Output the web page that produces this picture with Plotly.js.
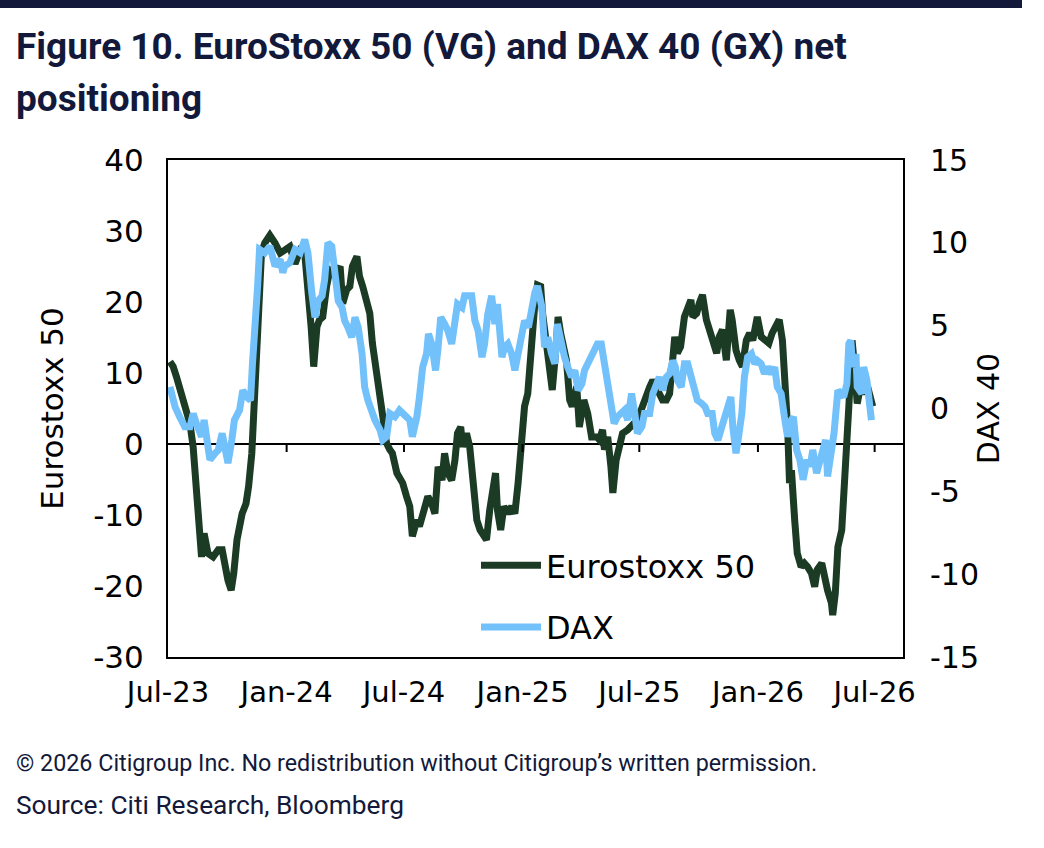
<!DOCTYPE html>
<html>
<head>
<meta charset="utf-8">
<script src="https://cdn.plot.ly/plotly-3.0.1.min.js"></script>
<style>
  html, body { margin: 0; padding: 0; background: #ffffff; }
  #chart { width: 1044px; height: 848px; }
</style>
</head>
<body>
<div id="chart"></div>
<script>
// EuroStoxx 50 (VG) net positioning, left axis
const esDates = [
  '2023-07-04','2023-07-09','2023-07-14','2023-07-19','2023-07-24','2023-07-30','2023-08-04','2023-08-09','2023-08-14','2023-08-19',
  '2023-08-22','2023-08-26','2023-09-01','2023-09-09','2023-09-17','2023-09-23','2023-09-28','2023-10-02','2023-10-07','2023-10-11',
  '2023-10-16','2023-10-24','2023-10-30','2023-11-03','2023-11-08','2023-11-11','2023-11-16','2023-11-19','2023-11-23','2023-11-28',
  '2023-12-06','2023-12-14','2023-12-22','2023-12-29','2024-01-06','2024-01-14','2024-01-22','2024-01-29','2024-02-03','2024-02-08',
  '2024-02-12','2024-02-17','2024-02-21','2024-02-26','2024-03-03','2024-03-08','2024-03-16','2024-03-24','2024-03-28','2024-04-03',
  '2024-04-08','2024-04-12','2024-04-19','2024-04-23','2024-04-28','2024-05-04','2024-05-09','2024-05-13','2024-05-20','2024-05-24',
  '2024-05-29','2024-06-04','2024-06-09','2024-06-13','2024-06-20','2024-06-24','2024-06-29','2024-07-05','2024-07-10','2024-07-14',
  '2024-07-21','2024-07-25','2024-07-30','2024-08-07','2024-08-13','2024-08-18','2024-08-23','2024-08-29','2024-09-02','2024-09-07',
  '2024-09-13','2024-09-18','2024-09-22','2024-09-27','2024-09-30','2024-10-06','2024-10-11','2024-10-16','2024-10-22','2024-10-27',
  '2024-10-31','2024-11-06','2024-11-11','2024-11-15','2024-11-20','2024-11-23','2024-11-28','2024-12-03','2024-12-09','2024-12-15',
  '2024-12-20','2024-12-25','2024-12-31','2025-01-04','2025-01-09','2025-01-15','2025-01-20','2025-01-24','2025-01-29','2025-02-01',
  '2025-02-07','2025-02-12','2025-02-16','2025-02-22','2025-02-25','2025-03-01','2025-03-04','2025-03-10','2025-03-15','2025-03-19',
  '2025-03-26','2025-03-30','2025-04-06','2025-04-12','2025-04-18','2025-04-26','2025-04-30','2025-05-05','2025-05-08','2025-05-13',
  '2025-05-18','2025-05-21','2025-05-26','2025-05-30','2025-06-05','2025-06-13','2025-06-21','2025-06-28','2025-07-06','2025-07-12',
  '2025-07-17','2025-07-22','2025-07-28','2025-08-01','2025-08-06','2025-08-12','2025-08-17','2025-08-22','2025-08-25','2025-08-29',
  '2025-09-03','2025-09-09','2025-09-14','2025-09-19','2025-09-22','2025-09-28','2025-10-02','2025-10-07','2025-10-13','2025-10-18',
  '2025-10-23','2025-10-29','2025-11-02','2025-11-07','2025-11-13','2025-11-19','2025-11-22','2025-11-28','2025-12-03','2025-12-08',
  '2025-12-14','2025-12-19','2025-12-24','2025-12-31','2026-01-06','2026-01-14','2026-01-18','2026-01-23','2026-01-29','2026-02-03',
  '2026-02-08','2026-02-12','2026-02-16','2026-02-19','2026-02-22','2026-02-27','2026-03-03','2026-03-09','2026-03-14','2026-03-19',
  '2026-03-25','2026-03-30','2026-04-03','2026-04-10','2026-04-14','2026-04-19','2026-04-25','2026-04-27','2026-05-01','2026-05-05',
  '2026-05-11','2026-05-14','2026-05-19','2026-05-22','2026-05-25','2026-05-27','2026-05-30','2026-06-01','2026-06-04','2026-06-09',
  '2026-06-15','2026-06-20','2026-06-25','2026-06-28'
];
const esValues = [
  11.6, 10.9, 9.5, 8.1, 6.2, 4.3, 2.9, -0.4, -6, -10.7,
  -15.9, -12.6, -15.4, -15.9, -14.9, -14.9, -17.7, -19.2, -20.6, -18.2,
  -13.5, -9.8, -8.4, -6, -1.3, 4.3, 11.8, 19.3, 26.9, 28.3,
  29.4, 28.3, 26.9, 27.3, 27.8, 25.4, 27.3, 26.9, 22.2, 16.5,
  10.9, 16.5, 17.5, 17.9, 22.2, 24.5, 24, 25, 19.8, 21.7,
  22.2, 25, 26.4, 23.6, 22.2, 20.3, 18.4, 14.2, 10, 6.7,
  4.3, 0.1, -0.8, -1.3, -4.1, -4.6, -5.5, -7.4, -8.8, -13,
  -10.7, -11.6, -9.8, -7.4, -8.4, -9.8, -3.2, -5.1, -1.3, -4.1,
  -5.1, -2.3, 1.5, 2.4, -0.4, 1.5, -0.4, -6, -10.7, -12.1,
  -12.6, -13.5, -9.3, -6, -4.1, -9.3, -12.1, -8.8, -9.8, -8.8,
  -9.8, -5.5, 1, 5.3, 7.1, 15.1, 19.8, 22.4, 22.2, 18.4,
  14.2, 11.4, 7.6, 13.7, 17.9, 15.6, 14.2, 11.8, 6.2, 5.3,
  8.1, 2.4, 6.2, 4.3, 1, 1, 0.6, 2, -0.8, 1,
  -3.2, -6.9, -2.3, -0.4, 1.5, 2, 2.9, 3.4, 5.3, 7.1,
  8, 9, 8.1, 7.1, 6.2, 6.2, 7.1, 11.8, 15.1, 12.8,
  13.7, 17.9, 18.9, 20.3, 17.9, 18.4, 19.8, 21, 17.5, 16.1,
  15.1, 12.8, 15.1, 16.1, 11.8, 18.9, 17.5, 13.2, 11.8, 10.9,
  14.6, 15.6, 14.6, 17.9, 15.1, 14.6, 14.2, 15.6, 16.5, 17.5,
  14.6, 9, 2.4, -5.5, -3.7, -10.7, -15.4, -17.3, -16.8, -17.3,
  -18.2, -20.1, -17.7, -16.8, -19.2, -20.6, -22.4, -24.1, -21, -14.5,
  -12.1, -6, -0.4, 5.3, 10.4, 14.6, 11.8, 7.1, 5.7, 8.1,
  7.1, 8.1, 6.7, 5.3
];

// DAX 40 (GX) net positioning, right axis
const daxDates = [
  '2023-07-04','2023-07-12','2023-07-19','2023-07-27','2023-08-04','2023-08-09','2023-08-14','2023-08-22','2023-08-26','2023-09-04',
  '2023-09-12','2023-09-17','2023-09-23','2023-09-28','2023-10-02','2023-10-08','2023-10-12','2023-10-20','2023-10-25','2023-10-31',
  '2023-11-06','2023-11-09','2023-11-14','2023-11-17','2023-11-20','2023-11-28','2023-12-06','2023-12-14','2023-12-22','2023-12-26',
  '2023-12-29','2024-01-06','2024-01-14','2024-01-22','2024-01-29','2024-02-03','2024-02-09','2024-02-14','2024-02-19','2024-02-25',
  '2024-02-29','2024-03-05','2024-03-11','2024-03-16','2024-03-21','2024-03-27','2024-03-31','2024-04-05','2024-04-11','2024-04-16',
  '2024-04-21','2024-04-27','2024-05-01','2024-05-06','2024-05-12','2024-05-17','2024-05-25','2024-05-29','2024-06-04','2024-06-09',
  '2024-06-17','2024-06-24','2024-07-02','2024-07-10','2024-07-14','2024-07-21','2024-07-25','2024-07-30','2024-08-05','2024-08-08',
  '2024-08-13','2024-08-19','2024-08-23','2024-08-27','2024-09-02','2024-09-07','2024-09-13','2024-09-18','2024-09-22','2024-09-29',
  '2024-10-03','2024-10-08','2024-10-14','2024-10-19','2024-10-24','2024-10-30','2024-11-03','2024-11-08','2024-11-14','2024-11-19',
  '2024-11-23','2024-11-30','2024-12-04','2024-12-09','2024-12-15','2024-12-20','2024-12-25','2024-12-31','2025-01-04','2025-01-10',
  '2025-01-15','2025-01-20','2025-01-24','2025-01-31','2025-02-04','2025-02-09','2025-02-15','2025-02-20','2025-02-24','2025-03-03',
  '2025-03-07','2025-03-12','2025-03-18','2025-03-23','2025-03-28','2025-04-03','2025-04-07','2025-04-12','2025-04-18','2025-04-23',
  '2025-04-27','2025-05-03','2025-05-08','2025-05-13','2025-05-19','2025-05-23','2025-05-28','2025-06-03','2025-06-08','2025-06-13',
  '2025-06-19','2025-06-24','2025-06-28','2025-07-05','2025-07-09','2025-07-17','2025-07-22','2025-07-28','2025-08-01','2025-08-06',
  '2025-08-12','2025-08-17','2025-08-22','2025-08-26','2025-08-29','2025-09-04','2025-09-09','2025-09-14','2025-09-20','2025-09-25',
  '2025-09-29','2025-10-06','2025-10-11','2025-10-15','2025-10-22','2025-10-26','2025-10-31','2025-11-06','2025-11-10','2025-11-15',
  '2025-11-20','2025-11-23','2025-11-28','2025-12-02','2025-12-07','2025-12-11','2025-12-16','2025-12-22','2025-12-27','2025-12-31',
  '2026-01-06','2026-01-11','2026-01-16','2026-01-22','2026-01-27','2026-01-31','2026-02-06','2026-02-11','2026-02-16','2026-02-22',
  '2026-02-25','2026-03-02','2026-03-07','2026-03-12','2026-03-18','2026-03-23','2026-03-27','2026-04-02','2026-04-06','2026-04-11',
  '2026-04-16','2026-04-19','2026-04-24','2026-04-29','2026-05-05','2026-05-09','2026-05-14','2026-05-19','2026-05-22','2026-05-25',
  '2026-05-28','2026-06-02','2026-06-04','2026-06-11','2026-06-14','2026-06-19','2026-06-22','2026-06-26'
];
const daxValues = [
  1.3, 0.1, -0.5, -1.1, -1.1, -0.3, -0.9, -1.7, -0.7, -3.1,
  -2.7, -2.5, -1.5, -2.5, -3.3, -1.9, -0.7, -0.1, 1.1, 0.7,
  0.5, 2.7, 4.9, 7.4, 9.6, 9.4, 9.8, 8.6, 9, 8.2,
  8.6, 8.8, 9.6, 9.4, 10.2, 9.4, 7, 5.5, 6.5, 6.8,
  7.8, 10, 9.8, 8, 6.5, 6.1, 5.3, 4.9, 4.3, 5.5,
  4.9, 3.3, 1.3, 0.5, -0.3, -0.7, -1.3, -1.9, -1.7, -0.3,
  -0.5, -0.1, -0.4, -0.7, -1.7, -0.5, 0.7, 2.5, 3.3, 4.5,
  3.9, 2.3, 3.7, 5.5, 5.1, 4.7, 3.9, 5.3, 6.3, 6.1,
  6.8, 6.8, 6.8, 5.3, 4.7, 3.1, 3.9, 5.7, 6.8, 5.1,
  6.3, 3.1, 3.7, 3.9, 3.3, 2.3, 3.3, 4.9, 5.3, 4.9,
  6.3, 7, 7.4, 6.1, 3.7, 4.3, 3.3, 2.7, 5.1, 3.7,
  3.1, 2.5, 1.9, 2.3, 1.1, 1.5, 2.3, 2.7, 3.1, 3.5,
  3.9, 3.9, 2.7, 2.1, 0.1, -0.9, -0.5, -0.3, -0.1, -0.7,
  0.9, -0.3, -1.5, -1.1, -0.3, -0.3, 0.9, 1.5, 1.9, 1.1,
  1.9, 2.1, 2.9, 2.5, 1.7, 1.3, 2.7, 2.7, 1.7, 1.1,
  0.5, 0.3, 0.1, -0.3, -0.3, -1.5, -1.9, -1.1, -0.5, 0.1,
  0.7, -1.1, -2.7, -1.7, -0.3, 1.9, 3.1, 3.3, 2.7, 2.9,
  2.7, 2.1, 2.5, 2.1, 2.5, 1.3, 0.9, -0.5, -1.7, -0.7,
  -0.5, -2.5, -3.1, -4.3, -3.1, -3.5, -2.5, -3.9, -3.3, -2.7,
  -1.9, -4.1, -2.7, -1.5, 1.1, 0.9, 0.7, 1.5, 3.9, 4.1,
  2.5, 3.3, 1.3, 0.9, 2.5, 1.7, 0.5, -0.7
];

// Axis ticks and labels
const tickDates = ['2023-07-01','2024-01-01','2024-07-01','2025-01-01','2025-07-01','2026-01-01','2026-07-01'];
const tickLabels = ['Jul-23','Jan-24','Jul-24','Jan-25','Jul-25','Jan-26','Jul-26'];
const leftTicks = [40, 30, 20, 10, 0, -10, -20, -30];
const rightTicks = [15, 10, 5, 0, -5, -10, -15];

const titleLines = ['Figure 10. EuroStoxx 50 (VG) and DAX 40 (GX) net', 'positioning'];
const footnotes = ['\u00A9 2026 Citigroup Inc. No redistribution without Citigroup\u2019s written permission.',
                   'Source: Citi Research, Bloomberg'];

const NAVY = '#13193a';
const ES_COLOR = '#1b3b25';
const DAX_COLOR = '#72c1fa';
const AXIS_FONT = 'DejaVu Sans, Verdana, sans-serif';
const NOTE_FONT = 'Roboto, Liberation Sans, sans-serif';

// plot area in pixels
const W = 1044, H = 848;
const M = { l: 168, r: 141, t: 160, b: 191 };
const PW = W - M.l - M.r, PH = H - M.t - M.b;
const px = x => (x - M.l) / PW;          // page x -> paper x
const py = y => (H - M.b - y) / PH;      // page y -> paper y

const traces = [
  {
    x: esDates, y: esValues, name: 'Eurostoxx 50', legendgroup: 'es',
    type: 'scatter', mode: 'lines', yaxis: 'y',
    line: { color: ES_COLOR, width: 7, shape: 'linear' }
  },
  {
    x: daxDates, y: daxValues, name: 'DAX', legendgroup: 'dax',
    type: 'scatter', mode: 'lines', yaxis: 'y2',
    line: { color: DAX_COLOR, width: 7, shape: 'linear' }
  }
];

// small tick marks hanging below the zero line at each date label
const zeroTicks = tickDates.slice(1).map(d => ({
  type: 'line', xref: 'x', yref: 'y', ysizemode: 'pixel', yanchor: 0,
  x0: d, x1: d, y0: 0, y1: -8,
  line: { color: '#000', width: 2 }
}));

const layout = {
  width: W, height: H,
  paper_bgcolor: '#ffffff', plot_bgcolor: '#ffffff',
  margin: M,
  font: { family: AXIS_FONT, size: 28, color: '#000' },
  showlegend: true,
  legend: {
    x: px(476), xanchor: 'left', y: py(538), yanchor: 'top',
    bgcolor: 'rgba(0,0,0,0)', borderwidth: 0,
    font: { family: AXIS_FONT, size: 32, color: '#000' },
    itemwidth: 60,
    traceorder: 'grouped', tracegroupgap: 17
  },
  xaxis: {
    type: 'date', range: ['2023-07-01', '2026-08-14'],
    tickmode: 'array', tickvals: tickDates, ticktext: tickLabels,
    ticks: '', showgrid: false, zeroline: false,
    showline: true, mirror: true, linecolor: '#000', linewidth: 2,
    tickfont: { family: AXIS_FONT, size: 29 }, ticklabelstandoff: 8
  },
  yaxis: {
    range: [-30, 40], tickmode: 'array', tickvals: leftTicks, ticktext: leftTicks.map(String),
    ticks: '', showgrid: false,
    zeroline: true, zerolinecolor: '#000', zerolinewidth: 2,
    showline: true, linecolor: '#000', linewidth: 2,
    tickfont: { family: AXIS_FONT, size: 31 }, ticklabelstandoff: 16,
    title: { text: 'Eurostoxx 50', font: { family: AXIS_FONT, size: 31 }, standoff: 20 }
  },
  yaxis2: {
    overlaying: 'y', side: 'right',
    range: [-15, 15], tickmode: 'array', tickvals: rightTicks, ticktext: rightTicks.map(String),
    ticks: '', showgrid: false, zeroline: false,
    showline: true, linecolor: '#000', linewidth: 2,
    tickfont: { family: AXIS_FONT, size: 30 }, ticklabelstandoff: 19,
    title: { text: 'DAX 40', font: { family: AXIS_FONT, size: 30 }, standoff: 0 }
  },
  shapes: [
    // header rule
    { type: 'rect', xref: 'paper', yref: 'paper', x0: px(0), x1: px(1022), y0: py(8), y1: py(0),
      fillcolor: NAVY, line: { width: 0 }, layer: 'above' }
  ].concat(zeroTicks),
  annotations: [
    { text: titleLines[0], xref: 'paper', yref: 'paper', x: px(14), y: py(47), xanchor: 'left', yanchor: 'middle',
      showarrow: false, font: { family: NOTE_FONT, size: 37, color: NAVY, weight: 700 } },
    { text: titleLines[1], xref: 'paper', yref: 'paper', x: px(14), y: py(99), xanchor: 'left', yanchor: 'middle',
      showarrow: false, font: { family: NOTE_FONT, size: 37, color: NAVY, weight: 700 } },
    { text: footnotes[0], xref: 'paper', yref: 'paper', x: px(14), y: py(763), xanchor: 'left', yanchor: 'middle',
      showarrow: false, font: { family: NOTE_FONT, size: 23.3, color: NAVY } },
    { text: footnotes[1], xref: 'paper', yref: 'paper', x: px(14), y: py(805), xanchor: 'left', yanchor: 'middle',
      showarrow: false, font: { family: NOTE_FONT, size: 26.3, color: NAVY } }
  ]
};

Plotly.newPlot('chart', traces, layout, { displayModeBar: false, staticPlot: true });
</script>
</body>
</html>
